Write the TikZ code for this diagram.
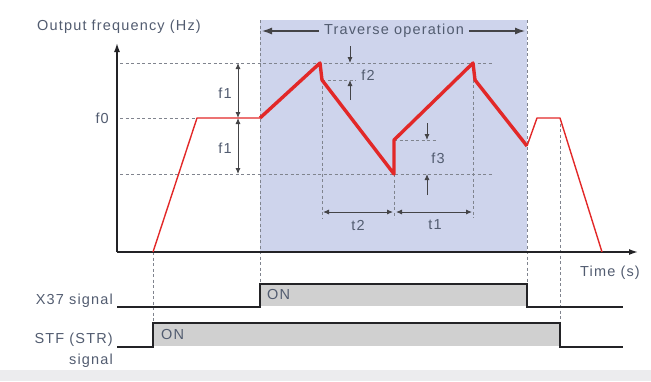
\documentclass[tikz,border=0pt]{standalone}
\usepackage{xcolor}
\usepackage{fontspec}
\setmainfont{Liberation Sans}[LetterSpace=8]
\usepackage{tikz}
\usetikzlibrary{arrows.meta, positioning, calc}
\definecolor{ink}{RGB}{82,92,112}
\definecolor{axisLine}{RGB}{35,35,38}
\definecolor{traverseFill}{RGB}{206,212,236}
\definecolor{freqRed}{RGB}{226,40,40}
\definecolor{signalFill}{RGB}{208,208,208}
\definecolor{guideLine}{RGB}{128,132,142}
\definecolor{footFill}{RGB}{236,236,238}
\tikzset{
  txt/.style={font=\fontsize{14.5}{16}\selectfont, text=ink, inner sep=1pt},
  axis/.style={-{Latex[length=9pt,width=6pt]}, line width=1.5pt, draw=axisLine},
  guide/.style={draw=guideLine, dash pattern=on 3pt off 2.5pt, line width=0.8pt},
  dim/.style={{Latex[length=6pt,width=5pt]}-{Latex[length=6pt,width=5pt]}, line width=0.9pt, draw=axisLine!85},
  pointer/.style={-{Latex[length=6pt,width=5pt]}, line width=0.9pt, draw=axisLine!85},
  spanArrow/.style={-{Latex[length=10pt,width=7pt]}, line width=1.2pt, draw=axisLine!85},
  rampThin/.style={draw=freqRed, line width=1.4pt, line join=round},
  rampThick/.style={draw=freqRed, line width=3.4pt, line join=round},
  signal/.style={draw=axisLine, line width=1.5pt},
  signalOn/.style={fill=signalFill}
}

\begin{document}
\begin{tikzpicture}[x=1pt, y=-1pt]
  \useasboundingbox (0,0) rectangle (651,381);
  \fill[footFill] (0,370) rectangle (651,381);

  % traverse window
  \fill[traverseFill] (260,20) rectangle (527,252);

  \coordinate (origin) at (117,252);
  \coordinate (yTop) at (117,43);
  \coordinate (xEnd) at (638,252);

  \coordinate (start) at (153,252);
  \coordinate (reach) at (197,118);
  \coordinate (tvBegin) at (260,118);
  \coordinate (peakA) at (320,63);
  \coordinate (dropA) at (322,80);
  \coordinate (lowA) at (394,174);
  \coordinate (jumpA) at (394,140);
  \coordinate (peakB) at (473,63);
  \coordinate (dropB) at (475,80);
  \coordinate (tvEnd) at (527,146);
  \coordinate (backUp) at (537,118);
  \coordinate (decel) at (560,118);
  \coordinate (stop) at (602,252);

  % guides
  \draw[guide] (120,63) -- (493,63);
  \draw[guide] (120,118) -- (reach);
  \draw[guide] (120,174) -- (493,174);
  \draw[guide] (dropA) -- (356,80);
  \draw[guide] (jumpA) -- (437,140);
  \draw[guide] (260,20) -- (260,284);
  \draw[guide] (527,20) -- (527,307);
  \draw[guide] (start) -- (153,323);
  \draw[guide] (decel) -- (560,347);
  \draw[guide] (dropA) -- (322,218);
  \draw[guide] (lowA) -- (394,218);
  \draw[guide] (peakB) -- (473,218);

  % axes
  \draw[axis] (origin) -- (yTop);
  \draw[axis] (origin) -- (xEnd);
  \node[txt] (yLabel) at (119,27) {Output frequency (Hz)};
  \node[txt] (xLabel) at (610,273) {Time (s)};
  \node[txt, anchor=east] (fZero) at (110,118) {f0};

  % output frequency
  \draw[rampThin] (start) -- (reach) -- (tvBegin);
  \draw[rampThick] (tvBegin) -- (peakA) -- (dropA) -- (lowA) -- (jumpA) -- (peakB) -- (dropB) -- (tvEnd);
  \draw[rampThin] (tvEnd) -- (backUp) -- (decel) -- (stop);

  % traverse span
  \node[txt, inner xsep=5pt] (traverse) at (394,31) {Traverse operation};
  \draw[spanArrow] (traverse.west) -- (262,31);
  \draw[spanArrow] (traverse.east) -- (525,31);

  % amplitude f1
  \draw[dim] (238,63) -- (238,118);
  \draw[dim] (238,118) -- (238,174);
  \node[txt] (fOneUp) at (225,93) {f1};
  \node[txt] (fOneDown) at (225,148) {f1};

  % jump f2
  \draw[pointer] (350,46) -- (350,63);
  \draw[pointer] (350,100) -- (350,80);
  \node[txt] (fTwo) at (368,75) {f2};

  % jump f3
  \draw[pointer] (427,123) -- (427,140);
  \draw[pointer] (427,195) -- (427,174);
  \node[txt] (fThree) at (438,158) {f3};

  % times t1 t2
  \draw[dim] (323,212) -- (393,212);
  \draw[dim] (396,212) -- (472,212);
  \node[txt] (tTwo) at (358,225) {t2};
  \node[txt] (tOne) at (435,225) {t1};

  % X37 signal
  \fill[signalOn] (260,284) rectangle (527,306);
  \draw[signal] (117,307) -- (260,307) -- (260,284) -- (527,284) -- (527,307) -- (623,307);
  \node[txt, anchor=west] (xOn) at (266,295) {ON};
  \node[txt, anchor=east] (xSignal) at (114,301) {X37 signal};

  % STF signal
  \fill[signalOn] (153,323) rectangle (560,346);
  \draw[signal] (117,347) -- (153,347) -- (153,323) -- (560,323) -- (560,347) -- (623,347);
  \node[txt, anchor=west] (sOn) at (160,335) {ON};
  \node[txt, anchor=east, align=right] (sSignal) at (114,350) {STF (STR)\\[5pt]signal};
\end{tikzpicture}
\end{document}
